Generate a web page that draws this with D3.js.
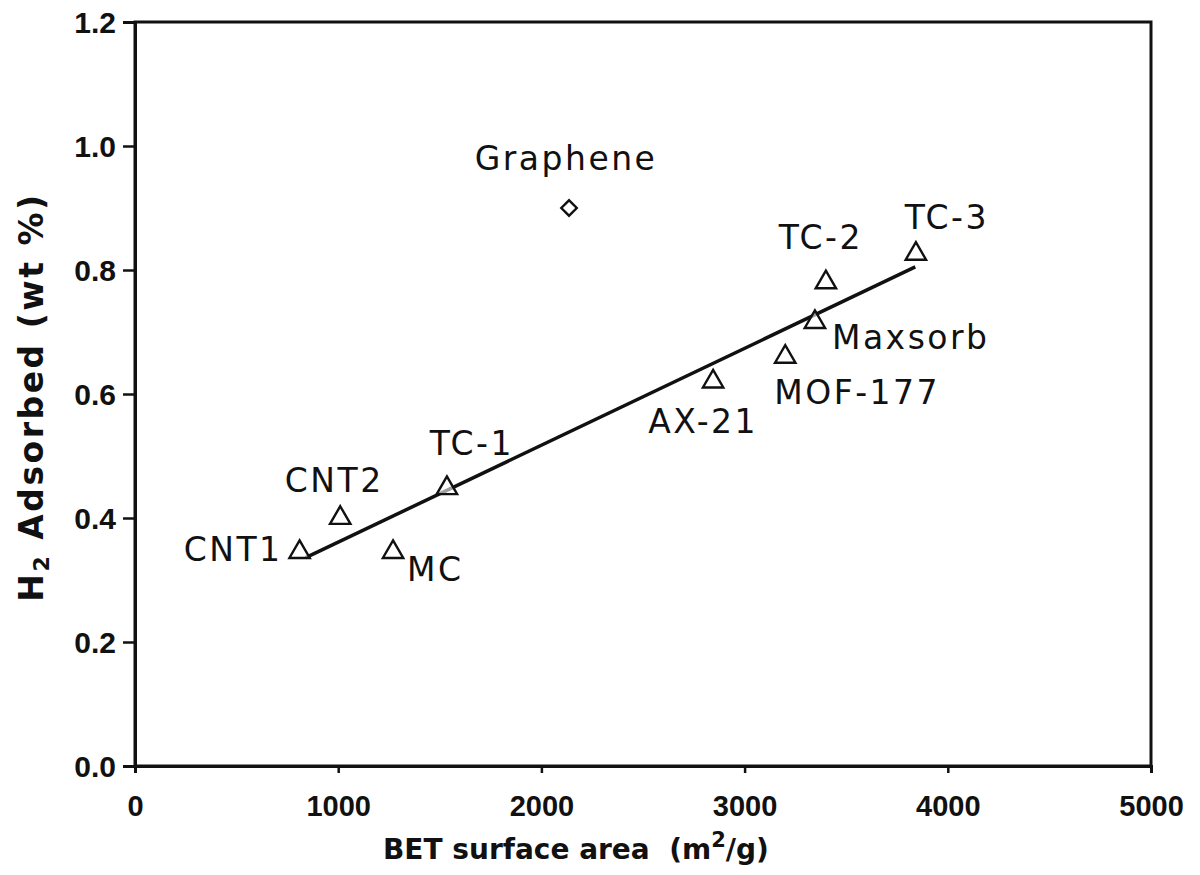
<!DOCTYPE html>
<html>
<head>
<meta charset="utf-8">
<script src="https://cdn.jsdelivr.net/npm/d3@7"></script>
<style>
  html, body { margin: 0; padding: 0; background: #fff; }
  svg { display: block; }
</style>
</head>
<body>
<svg id="chart" width="1200" height="875"></svg>
<script>
// Hydrogen uptake versus BET surface area
const materials = ["CNT1", "CNT2", "MC", "TC-1", "AX-21", "MOF-177", "Maxsorb", "TC-2", "TC-3"];
const surfaceArea = [810, 1010, 1270, 1535, 2845, 3200, 3346, 3400, 3843];
const h2Adsorbed = [0.345, 0.40, 0.345, 0.448, 0.62, 0.66, 0.716, 0.78, 0.826];

const grapheneName = ["Graphene"];
const grapheneArea = [2136];
const grapheneH2 = [0.90];

// linear fit through the porous carbons / MOF
const fitArea = [840, 3840];
const fitH2 = [0.336, 0.805];

const xTicks = [0, 1000, 2000, 3000, 4000, 5000];
const yTicks = [0.0, 0.2, 0.4, 0.6, 0.8, 1.0, 1.2];

// label placement around each marker: [dx, dy, anchor]
const labelPlacement = {
  "CNT1": [-17, 9, "end"],
  "CNT2": [-6, -26, "middle"],
  "MC": [14, 29, "start"],
  "TC-1": [25, -33, "middle"],
  "AX-21": [-10, 51, "middle"],
  "MOF-177": [-11, 47, "start"],
  "Maxsorb": [17, 27, "start"],
  "TC-2": [-5, -33, "middle"],
  "TC-3": [31, -25, "middle"],
  "Graphene": [-3, -38, "middle"]
};

const svg = d3.select("#chart");
const x = d3.scaleLinear().domain([0, 5000]).range([135, 1151]);
const y = d3.scaleLinear().domain([0, 1.2]).range([766, 22]);

const ink = "#111";

// frame (top and right edges)
svg.append("rect")
  .attr("x", x(0)).attr("y", y(1.2))
  .attr("width", x(5000) - x(0)).attr("height", y(0) - y(1.2))
  .attr("fill", "none").attr("stroke", ink).attr("stroke-width", 3);

// y axis
const yAxis = svg.append("g")
  .attr("transform", `translate(${x(0)},0)`)
  .call(d3.axisLeft(y).tickValues(yTicks).tickFormat(d3.format(".1f")).tickSize(12).tickPadding(7));
yAxis.select(".domain").attr("stroke", ink).attr("stroke-width", 3);
yAxis.selectAll(".tick line").attr("stroke", ink).attr("stroke-width", 2.5);
yAxis.selectAll(".tick text")
  .attr("font-family", "Liberation Sans, Arial, sans-serif")
  .attr("font-weight", "bold").attr("font-size", 30).attr("fill", ink)
  .attr("dy", "0.36em");

// x axis
const xAxis = svg.append("g")
  .attr("transform", `translate(0,${y(0)})`)
  .call(d3.axisBottom(x).tickValues(xTicks).tickFormat(d3.format("d")).tickSize(7));
xAxis.select(".domain").attr("stroke", ink).attr("stroke-width", 3);
xAxis.selectAll(".tick line").attr("stroke", ink).attr("stroke-width", 2.5);
xAxis.selectAll(".tick text")
  .attr("font-family", "Liberation Sans, Arial, sans-serif")
  .attr("font-weight", "bold").attr("font-size", 29).attr("fill", ink)
  .attr("y", 50).attr("dy", 0);

// fit line
svg.append("path")
  .datum(d3.zip(fitArea, fitH2))
  .attr("d", d3.line().x(d => x(d[0])).y(d => y(d[1])))
  .attr("fill", "none").attr("stroke", ink).attr("stroke-width", 3.5);

// triangle markers
const pts = materials.map((m, i) => ({ name: m, a: surfaceArea[i], h: h2Adsorbed[i] }));
svg.append("g").selectAll("path")
  .data(pts).join("path")
  .attr("d", d3.symbol().type(d3.symbolTriangle).size(180))
  .attr("transform", d => `translate(${x(d.a)},${y(d.h)})`)
  .attr("fill", "#fff").attr("fill-opacity", 0.6)
  .attr("stroke", ink).attr("stroke-width", 2.4);

// graphene diamond
const gpts = grapheneName.map((m, i) => ({ name: m, a: grapheneArea[i], h: grapheneH2[i] }));
svg.append("g").selectAll("path")
  .data(gpts).join("path")
  .attr("d", d3.symbol().type(d3.symbolSquare).size(120))
  .attr("transform", d => `translate(${x(d.a)},${y(d.h)}) rotate(45)`)
  .attr("fill", "#fff").attr("stroke", ink).attr("stroke-width", 2.4);

// point labels
svg.append("g").selectAll("text")
  .data(pts.concat(gpts)).join("text")
  .attr("x", d => x(d.a) + labelPlacement[d.name][0])
  .attr("y", d => y(d.h) + labelPlacement[d.name][1])
  .attr("text-anchor", d => labelPlacement[d.name][2])
  .attr("font-family", "DejaVu Sans, Verdana, sans-serif")
  .attr("font-size", 33).attr("letter-spacing", 2.5).attr("fill", ink)
  .text(d => d.name);

// x axis title
const xt = svg.append("text")
  .attr("x", 383).attr("y", 859)
  .attr("font-family", "DejaVu Sans, Verdana, sans-serif")
  .attr("font-weight", "bold").attr("font-size", 28).attr("fill", ink)
  .attr("xml:space", "preserve");
xt.append("tspan").text("BET surface area  (m");
xt.append("tspan").attr("font-size", 21).attr("dy", -12).text("2");
xt.append("tspan").attr("dy", 12).text("/g)");

// y axis title
const yt = svg.append("text")
  .attr("transform", "translate(43,397) rotate(-90)")
  .attr("text-anchor", "middle")
  .attr("font-family", "DejaVu Sans, Verdana, sans-serif")
  .attr("font-weight", "bold").attr("font-size", 33).attr("letter-spacing", 2.5).attr("fill", ink);
yt.append("tspan").text("H");
yt.append("tspan").attr("font-size", 22).attr("dy", 6).text("2");
yt.append("tspan").attr("dy", -6).text(" Adsorbed (wt %)");
</script>
</body>
</html>
